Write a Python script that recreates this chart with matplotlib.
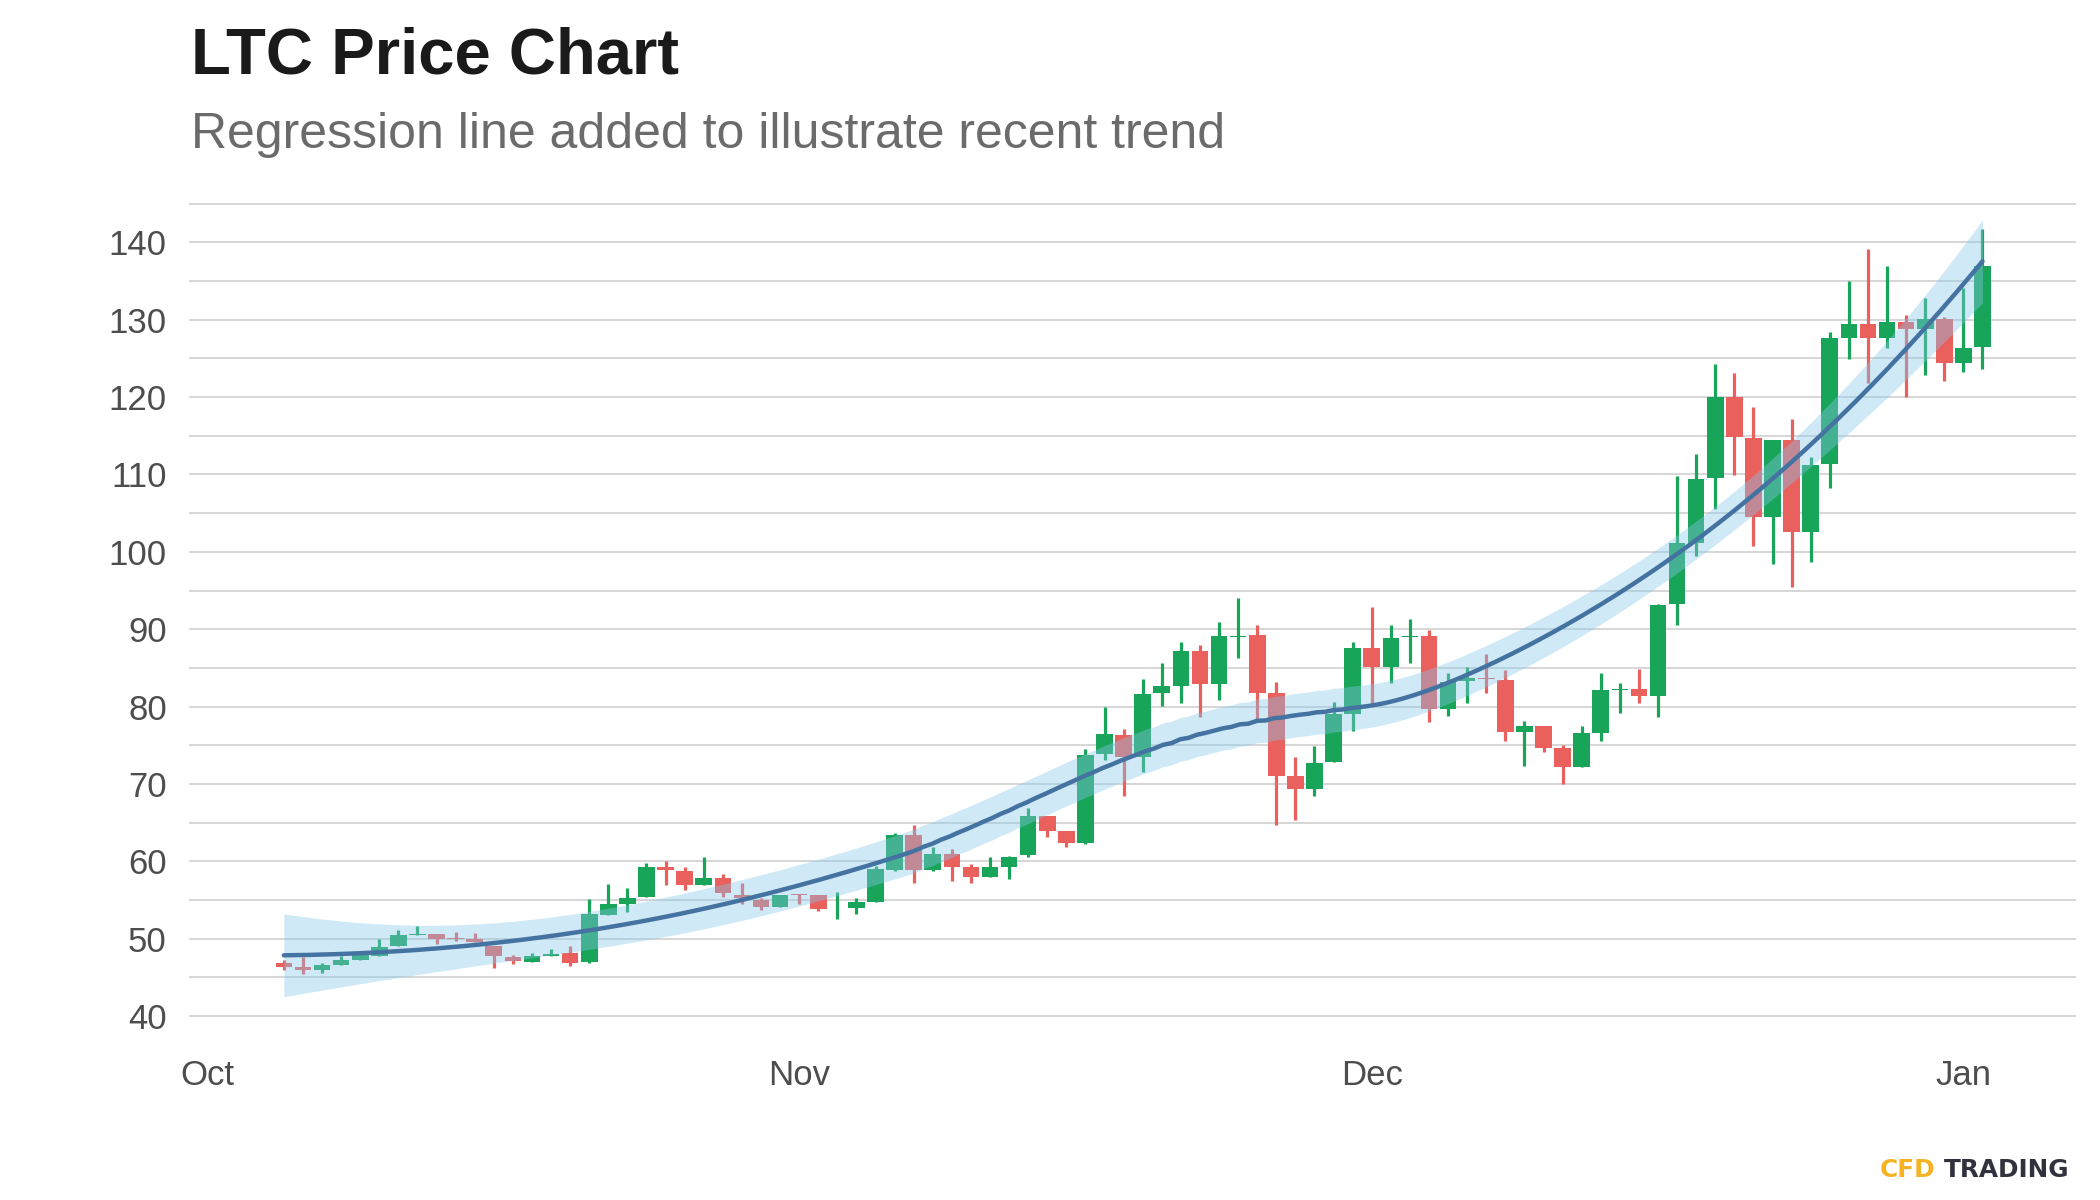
import numpy as np
import pandas as pd
import matplotlib
matplotlib.use("Agg")
import matplotlib.pyplot as plt
import matplotlib.dates as mdates

# daily LTC candles, 5 Oct 2020 - 2 Jan 2021
dates = pd.date_range("2020-10-05", "2021-01-02", freq="D")
opens = [46.8, 46.4, 45.9, 46.6, 47.2, 47.8, 49.0, 50.5, 50.6, 50.1,
         49.9, 49.1, 47.6, 47.0, 47.7, 48.1, 47.0, 53.1, 54.5, 55.4,
         59.2, 58.8, 57.0, 57.9, 55.7, 55.0, 54.1, 55.7, 55.6, 53.9,
         54.0, 54.7, 58.9, 63.4, 58.9, 60.9, 59.2, 58.0, 59.3, 60.8,
         65.9, 63.9, 62.4, 73.9, 76.3, 73.5, 81.7, 82.6, 87.2, 82.9,
         89.0, 89.2, 81.8, 71.0, 69.3, 72.8, 79.0, 87.6, 85.1, 89.0,
         89.1, 79.7, 83.3, 83.7, 83.4, 76.7, 77.5, 74.7, 72.2, 76.6,
         82.2, 82.3, 81.4, 93.2, 101.1, 109.5, 120.0, 114.7, 104.5, 114.4,
         102.5, 111.3, 127.7, 129.4, 127.7, 129.7, 128.8, 130.1, 124.4, 126.5]
highs = [47.3, 47.6, 46.9, 47.7, 48.0, 49.9, 51.1, 51.6, 50.6, 50.9,
         50.7, 49.1, 47.9, 48.1, 48.7, 49.0, 55.1, 57.1, 56.6, 59.8,
         60.1, 59.2, 60.6, 58.4, 57.2, 55.3, 55.7, 55.8, 55.7, 56.0,
         55.2, 59.4, 63.7, 64.7, 61.9, 61.6, 59.6, 60.6, 60.7, 66.9,
         65.9, 63.9, 74.5, 80.0, 77.1, 83.5, 85.6, 88.4, 87.9, 90.9,
         94.0, 90.6, 83.2, 73.5, 74.9, 80.6, 88.4, 92.9, 90.6, 91.3,
         89.9, 84.3, 85.1, 86.8, 84.7, 78.1, 77.5, 75.0, 77.5, 84.3,
         83.0, 84.8, 93.2, 109.8, 112.7, 124.3, 123.1, 118.7, 114.5, 117.2,
         112.3, 128.4, 135.0, 139.2, 137.0, 130.6, 132.8, 130.3, 134.1, 141.7]
lows = [46.0, 45.4, 45.6, 46.6, 47.2, 47.8, 49.0, 50.5, 49.3, 49.7,
        49.6, 46.2, 46.7, 47.0, 47.7, 46.5, 46.9, 53.1, 53.5, 55.4,
        57.0, 56.3, 57.0, 55.4, 54.5, 53.7, 54.1, 54.5, 53.6, 52.6,
        53.2, 54.7, 58.8, 57.2, 58.7, 57.5, 57.2, 58.0, 57.7, 60.5,
        63.1, 61.8, 62.2, 73.1, 68.5, 71.6, 80.1, 80.5, 78.6, 80.9,
        86.3, 78.3, 64.7, 65.4, 68.4, 72.8, 76.9, 80.1, 83.1, 85.6,
        78.0, 78.8, 80.4, 81.8, 75.6, 72.3, 74.1, 70.0, 72.2, 75.6,
        79.2, 80.5, 78.7, 90.5, 99.4, 105.5, 109.9, 100.7, 98.4, 95.4,
        98.7, 108.3, 124.9, 121.8, 126.4, 120.0, 122.8, 122.1, 123.2, 123.6]
closes = [46.4, 45.9, 46.6, 47.2, 47.9, 48.9, 50.5, 50.6, 50.0, 49.9,
          49.6, 47.7, 47.1, 47.7, 48.0, 46.9, 53.2, 54.5, 55.3, 59.2,
          58.9, 57.0, 57.9, 55.9, 55.3, 54.1, 55.7, 55.6, 53.8, 54.0,
          54.7, 59.0, 63.4, 58.9, 60.9, 59.3, 58.0, 59.2, 60.6, 65.9,
          63.9, 62.4, 73.8, 76.4, 73.5, 81.6, 82.6, 87.2, 82.9, 89.1,
          89.1, 81.8, 71.0, 69.3, 72.7, 79.0, 87.6, 85.1, 88.9, 89.1,
          79.7, 83.2, 83.7, 83.5, 76.7, 77.5, 74.7, 72.2, 76.6, 82.2,
          82.3, 81.4, 93.1, 101.1, 109.4, 120.0, 114.8, 104.5, 114.4, 102.5,
          111.2, 127.6, 129.4, 127.7, 129.7, 128.8, 130.1, 124.4, 126.4, 136.9]

month_ticks = ["2020-10-01", "2020-11-01", "2020-12-01", "2021-01-01"]
month_labels = ["Oct", "Nov", "Dec", "Jan"]

GREEN = "#19a559"
RED = "#e9605d"
plt.rcParams["font.family"] = ["Liberation Sans", "DejaVu Sans"]


def loess(x, y, xs, span=0.75):
    # local quadratic regression with tricube weights + 95% band
    n = len(x)
    q = int(np.floor(n * span))

    def row(x0):
        d = np.abs(x - x0)
        h = np.sort(d)[q - 1]
        w = np.clip(1 - (d / h) ** 3, 0, None) ** 3
        X = np.column_stack([np.ones(n), x - x0, (x - x0) ** 2])
        XtW = X.T * w
        return np.linalg.solve(XtW @ X, XtW)[0]

    L = np.array([row(v) for v in x])
    resid = y - L @ y
    M = np.eye(n) - L
    MM = M.T @ M
    d1 = np.trace(MM)
    d2 = np.trace(MM @ MM)
    sigma = np.sqrt(resid @ resid / d1)
    df = d1 ** 2 / d2
    Ls = np.array([row(v) for v in xs])
    fit = Ls @ y
    se = sigma * np.sqrt((Ls ** 2).sum(axis=1))
    z = 1.959964
    t = z + (z ** 3 + z) / (4 * df)
    return fit, fit - t * se, fit + t * se


xd = mdates.date2num(dates)
o = np.array(opens)
h = np.array(highs)
l = np.array(lows)
c = np.array(closes)
up = c >= o
cols = np.where(up, GREEN, RED)

fig = plt.figure(figsize=(21, 12), dpi=100)
ax = fig.add_axes([189 / 2100, 1 - 1031.5 / 1200, (2076 - 189) / 2100, (1031.5 - 188.2) / 1200])

ax.vlines(xd, l, h, colors=cols, lw=2.3, zorder=2)
body = np.maximum(np.abs(c - o), 0.12)
ax.bar(xd, body, bottom=np.minimum(o, c), width=0.87, color=cols, lw=0, zorder=2.5)

xs = np.linspace(xd[0], xd[-1], 200)
fit, lo, hi = loess(xd, c, xs)
ax.fill_between(xs, lo, hi, color="#87c8ea", alpha=0.4, lw=0, zorder=3)
ax.plot(xs, fit, color="#4573a1", lw=3.2, zorder=4, solid_capstyle="round")

ax.set_ylim(38, 147)
ax.set_yticks(np.arange(40, 141, 10))
ax.set_yticks(np.arange(45, 146, 10), minor=True)
ax.grid(axis="y", which="both", color="#cccccc", lw=1.1, zorder=0)
ax.set_axisbelow(True)

tk = mdates.date2num(pd.to_datetime(month_ticks))
ax.set_xticks(tk)
ax.set_xticklabels(month_labels)
ax.set_xlim(tk[0] - 0.97, tk[0] + 97.9)

for s in ax.spines.values():
    s.set_visible(False)
ax.tick_params(which="both", length=0, labelsize=25, colors="#4d4d4d")
ax.tick_params(axis="y", pad=16)
ax.tick_params(axis="x", pad=20)

fig.text(191 / 2100, 1 - 73 / 1200, "LTC Price Chart", fontsize=47, fontweight="bold",
         color="#1a1a1a", ha="left", va="baseline")
fig.text(191 / 2100, 1 - 148 / 1200, "Regression line added to illustrate recent trend",
         fontsize=36, color="#6b6b6b", ha="left", va="baseline")

fig.text(1880 / 2100, 1 - 1177 / 1200, "CFD", fontsize=17.8, fontweight="bold",
         color="#f5b324", ha="left", va="baseline", family="DejaVu Sans")
fig.text(2070 / 2100, 1 - 1177 / 1200, "TRADING", fontsize=17.8, fontweight="bold",
         color="#32323e", ha="right", va="baseline", family="DejaVu Sans")

fig.savefig("out.png", dpi=100)
